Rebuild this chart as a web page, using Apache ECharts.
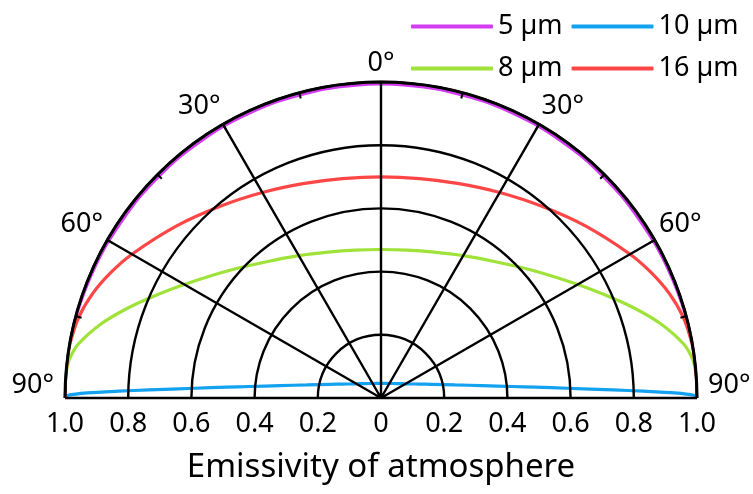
<!DOCTYPE html>
<html>
<head>
<meta charset="utf-8">
<script src="https://cdn.jsdelivr.net/npm/echarts@6/dist/echarts.min.js"></script>
<style>
  html, body { margin: 0; padding: 0; background: #fff; }
  #chart { width: 753px; height: 494px; }
</style>
</head>
<body>
<div id="chart"></div>
<script>
// Zenith angle (degrees, negative = left half) for every sampled point
const zenithAngles = [
  -90, -89.5, -89, -88.5, -88, -87, -86, -85, -83, -80, -75, -70, -65, -60, -50, -40, -30, -20, -10,
  0,
  10, 20, 30, 40, 50, 60, 65, 70, 75, 80, 83, 85, 86, 87, 88, 88.5, 89, 89.5, 90
];

// Atmospheric emissivity at each zenith angle, per wavelength
const emis5um = [
  1, 1, 1, 1, 1, 1, 1, 1, 1, 1, 0.998, 0.996, 0.995, 0.994, 0.993, 0.993, 0.993, 0.993, 0.993,
  0.993,
  0.993, 0.993, 0.993, 0.993, 0.993, 0.994, 0.995, 0.996, 0.998, 1, 1, 1, 1, 1, 1, 1, 1, 1, 1
];
const emis10um = [
  1.0, 0.99, 0.93, 0.83, 0.735, 0.59, 0.49, 0.418, 0.322, 0.238, 0.167, 0.129, 0.105, 0.090, 0.071, 0.060, 0.053, 0.049, 0.047,
  0.046,
  0.047, 0.049, 0.053, 0.060, 0.071, 0.090, 0.105, 0.129, 0.167, 0.238, 0.322, 0.418, 0.49, 0.59, 0.735, 0.83, 0.93, 0.99, 1.0
];
const emis8um = [
  1, 1, 1, 1, 1, 1, 1, 0.999, 0.994, 0.974, 0.914, 0.844, 0.777, 0.719, 0.628, 0.563, 0.52, 0.491, 0.475,
  0.47,
  0.475, 0.491, 0.52, 0.563, 0.628, 0.719, 0.777, 0.844, 0.914, 0.974, 0.994, 0.999, 1, 1, 1, 1, 1, 1, 1
];
const emis16um = [
  1, 1, 1, 1, 1, 1, 1, 1, 1, 0.999, 0.99, 0.97, 0.942, 0.91, 0.846, 0.792, 0.751, 0.722, 0.705,
  0.70,
  0.705, 0.722, 0.751, 0.792, 0.846, 0.91, 0.942, 0.97, 0.99, 0.999, 1, 1, 1, 1, 1, 1, 1, 1, 1
];

const seriesNames = ['5 µm', '10 µm', '8 µm', '16 µm'];
const seriesColors = ['#d43cf2', '#12a2f0', '#9ee23a', '#ff4646'];
const seriesValues = [emis5um, emis10um, emis8um, emis16um];

// Tick values of the emissivity scale below the diameter
const emissivityTicks = [-1, -0.8, -0.6, -0.4, -0.2, 0, 0.2, 0.4, 0.6, 0.8, 1];

const FONT = 'Noto Sans';

const chart = echarts.init(document.getElementById('chart'), null, { renderer: 'canvas' });

const series = seriesNames.map((name, i) => ({
  name: name,
  type: 'line',
  coordinateSystem: 'polar',
  polarIndex: 0,
  symbol: 'none',
  smooth: 0.25,
  color: seriesColors[i],
  lineStyle: { color: seriesColors[i], width: i === 0 ? 2.5 : 3.2 },
  data: zenithAngles.map((a, k) => [seriesValues[i][k], a]),
  z: 2
}));

chart.setOption({
  backgroundColor: '#ffffff',
  animation: false,
  textStyle: { fontFamily: FONT },
  legend: {
    data: seriesNames,
    left: 406,
    top: 5,
    width: 335,
    itemWidth: 82,
    itemHeight: 4,
    itemGap: 9,
    icon: 'roundRect',
    textStyle: { fontFamily: FONT, fontSize: 27, color: '#000', lineHeight: 33 }
  },
  polar: { center: [381, 398], radius: 316 },
  angleAxis: {
    type: 'value',
    z: 5,
    min: -90,
    max: 90,
    interval: 30,
    startAngle: 180,
    endAngle: 0,
    clockwise: true,
    axisLine: { show: true, lineStyle: { color: '#000', width: 3 } },
    axisTick: { show: true, inside: true, length: 6, lineStyle: { color: '#000', width: 2 } },
    minorTick: { show: true, splitNumber: 2, length: 6, lineStyle: { color: '#000', width: 2 } },
    splitLine: { show: true, lineStyle: { color: '#000', width: 2.4 } },
    axisLabel: {
      margin: 5,
      fontFamily: FONT,
      fontSize: 27,
      color: '#000',
      // the horizon labels sit a little above the diameter
      formatter: v => Math.abs(v) === 90 ? '{up|90°}' : Math.abs(v) + '°',
      rich: { up: { fontFamily: FONT, fontSize: 27, color: '#000', padding: [0, 6, 26, 6] } }
    }
  },
  radiusAxis: {
    type: 'value',
    z: 5,
    min: 0,
    max: 1,
    interval: 0.2,
    axisLine: { show: false },
    axisTick: { show: false },
    axisLabel: { show: false },
    splitLine: { show: true, lineStyle: { color: '#000', width: 2.4 } }
  },
  grid: { left: 65, width: 632, top: 390, height: 8 },
  xAxis: {
    type: 'value',
    min: emissivityTicks[0],
    max: emissivityTicks[emissivityTicks.length - 1],
    interval: 0.2,
    axisLine: { show: false },
    axisTick: { show: false },
    splitLine: { show: false },
    axisLabel: {
      margin: 13,
      fontFamily: FONT,
      fontSize: 27,
      color: '#000',
      formatter: v => Math.abs(v) < 1e-9 ? '0' : Math.abs(v).toFixed(1)
    },
    name: 'Emissivity of atmosphere',
    nameLocation: 'middle',
    nameGap: 53,
    nameTextStyle: { fontFamily: FONT, fontSize: 33, color: '#000' }
  },
  yAxis: { type: 'value', show: false, min: 0, max: 1 },
  series: series
});
</script>
</body>
</html>
